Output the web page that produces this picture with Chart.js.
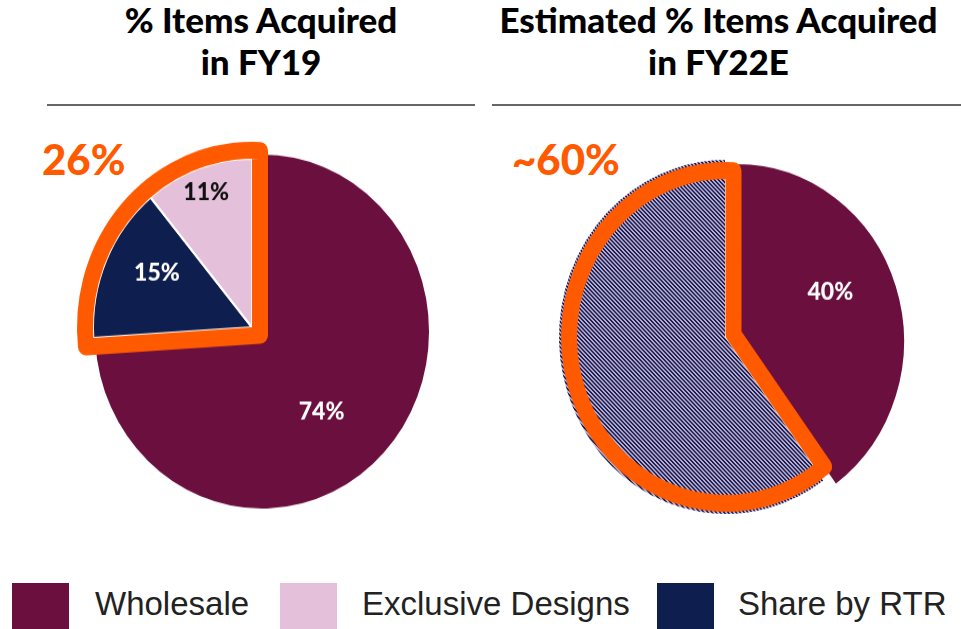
<!DOCTYPE html>
<html>
<head>
<meta charset="utf-8">
<script src="https://cdn.jsdelivr.net/npm/chart.js@4.4.1/dist/chart.umd.min.js"></script>
<style>
  body { margin: 0; width: 961px; height: 629px; overflow: hidden; background: #fff; position: relative; font-family: Lato, sans-serif; }
  .title { position: absolute; top: -2px; text-align: center; font-weight: 900; font-size: 35px; line-height: 42px; color: #000; white-space: nowrap; }
  .rule { position: absolute; top: 104px; height: 2px; background: #666; }
  .callout { position: absolute; top: 138px; font-weight: 900; font-size: 42px; line-height: 1; color: #ff5a00; }
  .pie { position: absolute; top: 110px; transform: scaleY(1.06); transform-origin: 0 0; }
  .sw { position: absolute; top: 583px; width: 57px; height: 50px; }
  .lg { position: absolute; top: 587px; font-family: "Liberation Sans", Arial, sans-serif; font-size: 33px; line-height: 1; color: #222; white-space: nowrap; }
</style>
</head>
<body>
<div class="title" style="left:0;width:522px" id="t0"></div>
<div class="title" style="left:478px;width:481px" id="t1"></div>
<div class="rule" style="left:47px;width:428px"></div>
<div class="rule" style="left:492px;width:469px"></div>
<div class="callout" style="left:42px" id="c0"></div>
<div class="callout" style="left:512px" id="c1"></div>
<canvas class="pie" id="fy19" width="480" height="430" style="left:0"></canvas>
<canvas class="pie" id="fy22" width="481" height="430" style="left:480px"></canvas>
<div id="legend"></div>
<script>
const titles = [['% Items Acquired', 'in FY19'], ['Estimated % Items Acquired', 'in FY22E']];
const callouts = ['26%', '~60%'];

const categories = ['Wholesale', 'Exclusive Designs', 'Share by RTR'];
const categoryColors = ['#6a0f3e', '#e5c0db', '#0e1f4f'];

// FY19 slices, clockwise from 12 o'clock
const fy19Labels = ['Wholesale', 'Share by RTR', 'Exclusive Designs'];
const fy19Values = [74, 15, 11];

// FY22E estimate: the non-wholesale part is one hatched slice
const fy22Labels = ['Wholesale', 'Exclusive Designs + Share by RTR'];
const fy22Values = [40, 60];

const ORANGE = '#ff5a00';

titles.forEach((t, i) => { document.getElementById('t' + i).innerHTML = t.join('<br>'); });
callouts.forEach((t, i) => { document.getElementById('c' + i).textContent = t; });

const legendPos = [[12, 95], [280, 362], [657, 738]];
const legend = document.getElementById('legend');
categories.forEach((name, i) => {
    legend.innerHTML += `<div class="sw" style="left:${legendPos[i][0]}px;background:${categoryColors[i]}"></div>
        <div class="lg" style="left:${legendPos[i][1]}px">${name}</div>`;
});

function colorOf(label) {
    return categoryColors[categories.indexOf(label)];
}

function hatch(fg, bg) {
    const c = document.createElement('canvas');
    c.width = c.height = 4;
    const g = c.getContext('2d');
    g.fillStyle = bg;
    g.fillRect(0, 0, 4, 4);
    g.fillStyle = fg;
    for (let x = 0; x < 4; x++) {
        for (let y = 0; y < 4; y++) {
            if ((((x - y) % 4) + 4) % 4 < 2) g.fillRect(x, y, 1, 1);
        }
    }
    return g.createPattern(c, 'repeat');
}

// pulls the highlighted slices out, writes the % labels and draws the orange frame
const pieExtras = {
    id: 'pieExtras',
    afterUpdate(chart, args, opts) {
        const meta = chart.getDatasetMeta(0);
        opts.lift.forEach(i => {
            const arc = meta.data[i];
            arc.x += opts.dx;
            arc.y += opts.dy;
            arc.outerRadius -= opts.shrink;
        });
    },
    afterDatasetsDraw(chart, args, opts) {
        const ctx = chart.ctx;
        const meta = chart.getDatasetMeta(0);
        const values = chart.data.datasets[0].data;

        ctx.save();
        ctx.font = '900 23px Lato';
        ctx.textAlign = 'center';
        ctx.textBaseline = 'middle';
        meta.data.forEach((arc, i) => {
            const lab = opts.labels[i];
            if (!lab) return;
            const a = (arc.startAngle + arc.endAngle) / 2 + lab.turn * Math.PI / 180;
            const r = arc.outerRadius * lab.frac;
            ctx.fillStyle = lab.color;
            ctx.fillText(values[i] + '%', arc.x + r * Math.cos(a), arc.y + r * Math.sin(a));
        });

        const first = meta.data[opts.lift[0]];
        const last = meta.data[opts.lift[opts.lift.length - 1]];
        const cx = first.x, cy = first.y;
        const a1 = first.startAngle, a2 = last.endAngle;
        const d = opts.frame.d;
        const R = first.outerRadius + opts.frame.dr;
        const delta = Math.asin(d / R);
        const m = (a1 + a2) / 2;
        const back = d / Math.sin((a2 - a1) / 2);
        ctx.beginPath();
        ctx.moveTo(cx - back * Math.cos(m), cy - back * Math.sin(m));
        ctx.lineTo(cx + R * Math.cos(a1 - delta), cy + R * Math.sin(a1 - delta));
        ctx.arc(cx, cy, R, a1 - delta, a2 + delta, false);
        ctx.closePath();
        ctx.lineWidth = opts.frame.width;
        ctx.lineJoin = 'round';
        ctx.strokeStyle = ORANGE;
        ctx.stroke();
        ctx.restore();
    }
};

function renderPie(id, labels, values, colors, padding, extras) {
    new Chart(document.getElementById(id), {
        type: 'pie',
        data: {
            labels: labels,
            datasets: [{
                data: values,
                backgroundColor: colors,
                borderColor: '#fff',
                borderWidth: 2,
                clip: false
            }]
        },
        options: {
            responsive: false,
            animation: false,
            events: [],
            layout: { padding: padding },
            plugins: {
                legend: { display: false },
                tooltip: { enabled: false },
                pieExtras: extras
            }
        },
        plugins: [pieExtras]
    });
}

document.fonts.load('900 23px Lato').then(() => {
    renderPie('fy19', fy19Labels, fy19Values, fy19Labels.map(colorOf),
        { left: 93, right: 49, top: 40, bottom: 52 },
        {
            lift: [1, 2], dx: -10, dy: -4, shrink: 9,
            frame: { d: 8, dr: 8, width: 16 },
            labels: [
                { frac: 0.575, turn: 8.7, color: '#fff' },
                { frac: 0.68, turn: 5, color: '#fff' },
                { frac: 0.85, turn: 0, color: '#111' }
            ]
        });

    renderPie('fy22', fy22Labels, fy22Values,
        [colorOf('Wholesale'), hatch('#1b1c4c', '#b9b0d8')],
        { left: 88, right: 55, top: 49, bottom: 43 },
        {
            lift: [1], dx: -11, dy: -4, shrink: 0,
            frame: { d: 7.5, dr: -11, width: 16 },
            labels: [
                { frac: 0.62, turn: -8.4, color: '#fff' },
                null
            ]
        });
});
</script>
</body>
</html>
